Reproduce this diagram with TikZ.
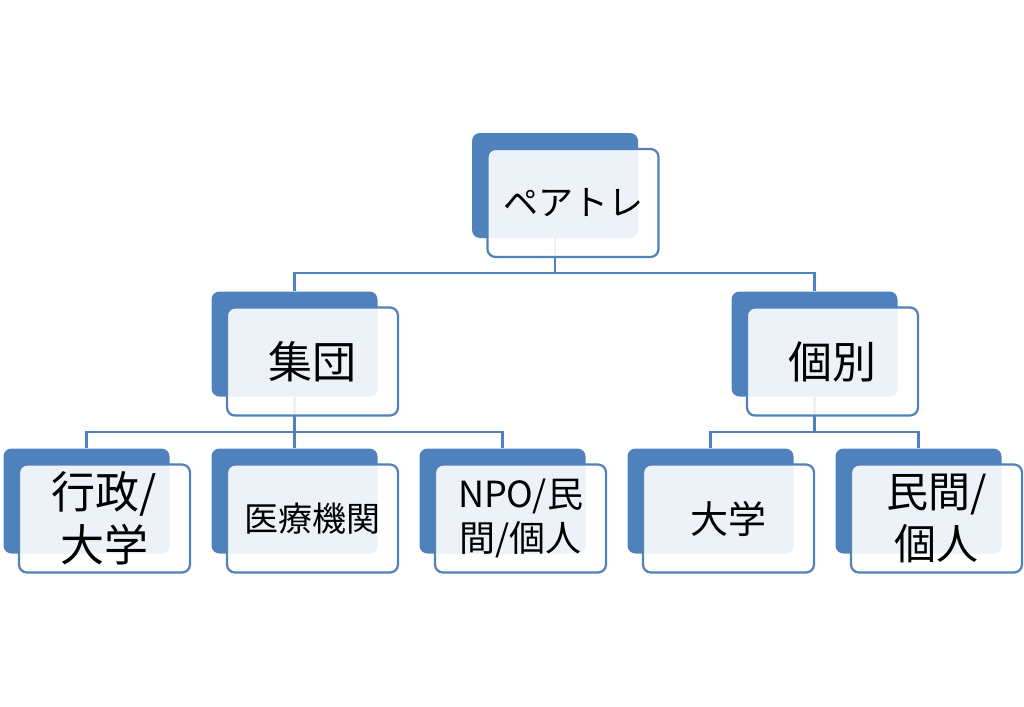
\documentclass[tikz,border=0pt]{standalone}
\usepackage{fontspec}
\setmainfont{Noto Sans CJK JP}
\usepackage{tikz}
\usetikzlibrary{calc, positioning}
\definecolor{boxblue}{HTML}{4F81BD}
\newcommand{\fsz}[2]{\fontsize{#1}{#2}\selectfont}

\begin{document}
\begin{tikzpicture}[x=1pt, y=-1pt,
  backbox/.style={fill=boxblue, rounded corners=8pt, minimum width=166pt, minimum height=105pt, inner sep=0pt},
  frontbox/.style={draw=boxblue, line width=2.2pt, fill=white, fill opacity=0.9, text opacity=1, rounded corners=8pt, minimum width=171pt, minimum height=108pt, inner sep=0pt, align=center},
  link/.style={draw=boxblue, line width=2.2pt}]
\useasboundingbox (0,0) rectangle (1024,706);
% back boxes
\node[backbox] (pairB) at (555,185.5) {};
\node[backbox] (shudanB) at (294.5,344) {};
\node[backbox] (kobetsuB) at (814.5,344) {};
\node[backbox] (gyoseiB) at (86.5,501) {};
\node[backbox] (iryoB) at (294.5,501) {};
\node[backbox] (npoB) at (502.5,501) {};
\node[backbox] (daigakuB) at (710.5,501) {};
\node[backbox] (minkanB) at (918.5,501) {};
% connectors
\draw[link] (pairB.south) -- ++(0,35) -| (shudanB.north);
\draw[link] (pairB.south) -- ++(0,35) -| (kobetsuB.north);
\draw[link] (shudanB.south) -- ++(0,35) -| (gyoseiB.north);
\draw[link] (shudanB.south) -- ++(0,35) -| (iryoB.north);
\draw[link] (shudanB.south) -- ++(0,35) -| (npoB.north);
\draw[link] (kobetsuB.south) -- ++(0,35) -| (daigakuB.north);
\draw[link] (kobetsuB.south) -- ++(0,35) -| (minkanB.north);
% front boxes
\node[frontbox, font=\fsz{35}{40}] (pair) at ($(pairB)+(18,17.5)$) {ペアトレ};
\node[frontbox, font=\fsz{44}{52}] (shudan) at ($(shudanB)+(18,17.5)$) {集団};
\node[frontbox, font=\fsz{44}{52}] (kobetsu) at ($(kobetsuB)+(18,17.5)$) {個別};
\node[frontbox, font=\fsz{44}{53}] (gyosei) at ($(gyoseiB)+(18,17.5)$) {行政/\\大学};
\node[frontbox, font=\fsz{34}{40}] (iryo) at ($(iryoB)+(18,17.5)$) {医療機関};
\node[frontbox, font=\fsz{36}{44}] (npo) at ($(npoB)+(18,17.5)$) {NPO/民\\間/個人};
\node[frontbox, font=\fsz{38}{44}] (daigaku) at ($(daigakuB)+(18,17.5)$) {大学};
\node[frontbox, font=\fsz{42}{52}] (minkan) at ($(minkanB)+(18,17.5)$) {民間/\\個人};
\end{tikzpicture}
\end{document}
